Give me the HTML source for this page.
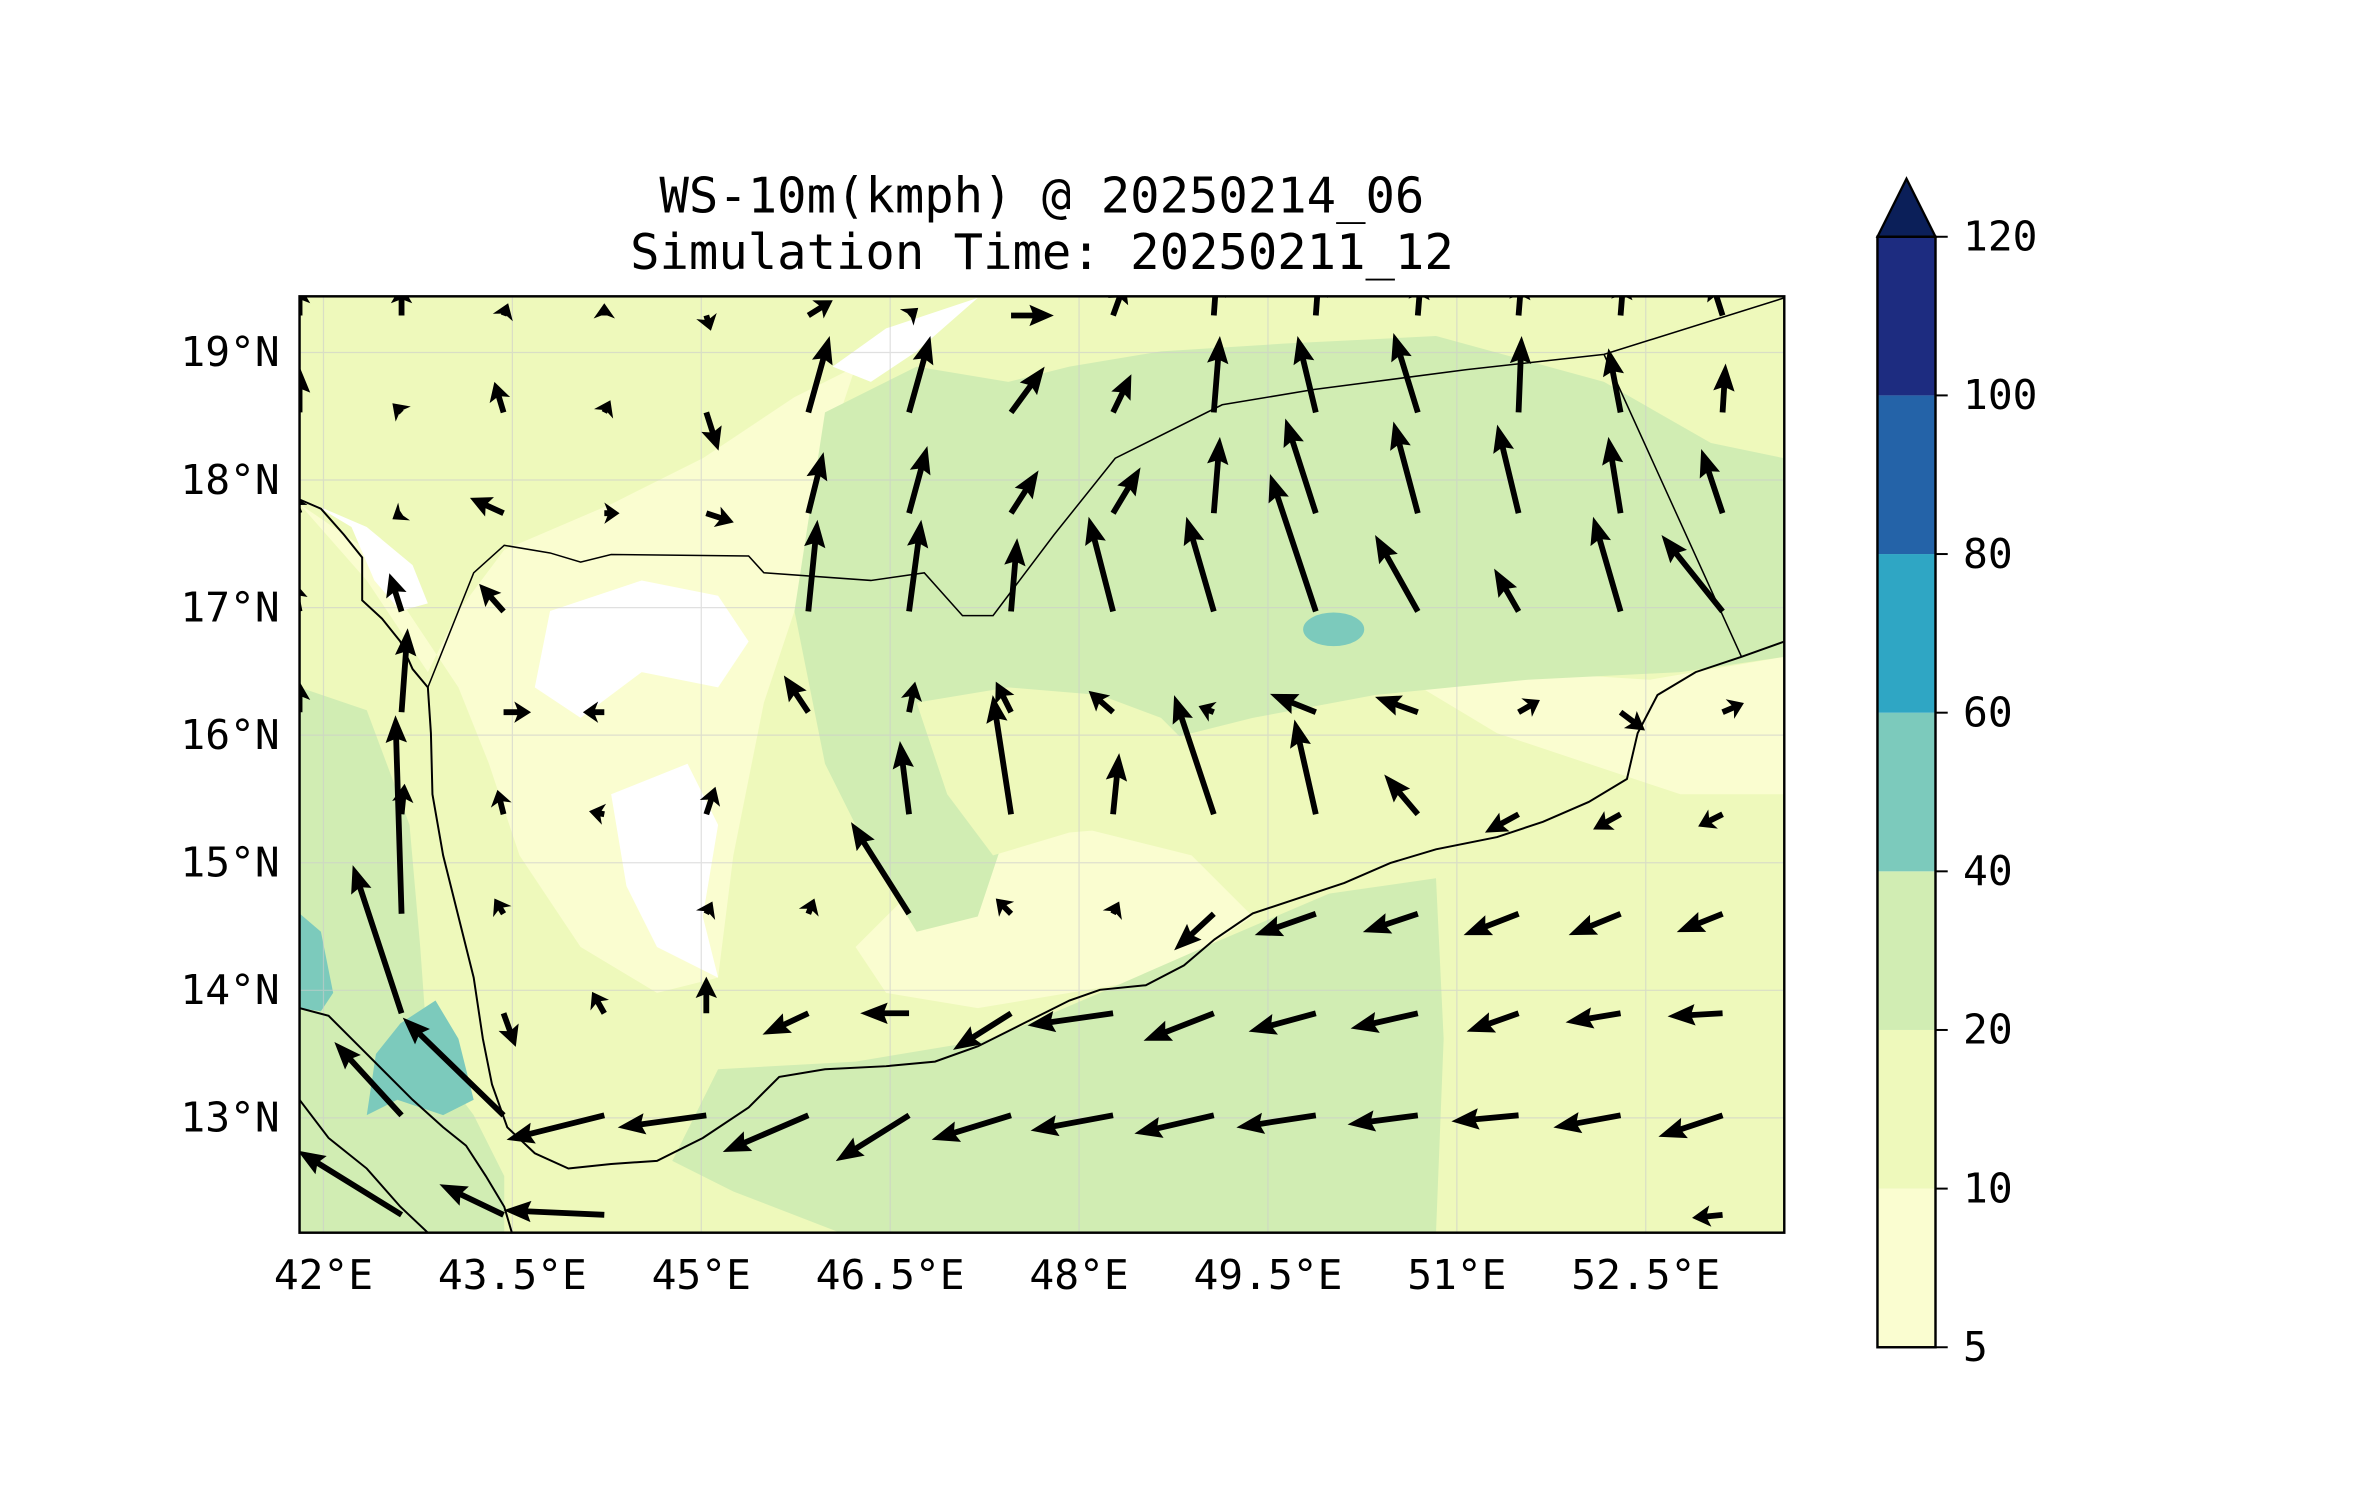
<!DOCTYPE html>
<html><head><meta charset="utf-8">
<style>
html,body{margin:0;padding:0;background:#fff;}
svg{display:block;font-family:"DejaVu Sans Mono","Liberation Mono",monospace;}
</style></head>
<body>
<svg id="chart" width="2371" height="1500" viewBox="0 0 1552 982" xmlns="http://www.w3.org/2000/svg">
<defs><clipPath id="mapclip"><rect x="196" y="194" width="972" height="613"/></clipPath></defs>
<text x="682" y="139" font-size="32" text-anchor="middle" fill="#000">WS-10m(kmph) @ 20250214_06</text>
<text x="682" y="176" font-size="32" text-anchor="middle" fill="#000">Simulation Time: 20250211_12</text>
<g id="map" clip-path="url(#mapclip)">
  <rect x="196" y="194" width="972" height="613" fill="#eef9bb"/>
  <path fill="#fafdd0" d="M196,330 L240,380 L280,440 L300,400 L330,360 L400,330 L460,300 L520,260 L560,240 L540,300 L520,400 L500,460 L480,560 L470,640 L430,650 L380,620 L340,560 L320,500 L300,450 L280,420 L240,360 Z"/>
  <path fill="#ffffff" d="M205,330 L230,345 L245,380 L262,400 L280,395 L270,370 L240,345 Z"/>
  <path fill="#ffffff" d="M360,400 L420,380 L470,390 L490,420 L470,450 L420,440 L380,470 L350,450 Z"/>
  <path fill="#ffffff" d="M400,520 L450,500 L470,540 L460,600 L470,640 L430,620 L410,580 Z"/>
  <path fill="#ffffff" d="M545,240 L580,215 L640,195 L600,230 L570,250 Z"/>
  <path fill="#fafdd0" d="M560,620 L620,560 L700,540 L780,560 L820,600 L760,640 L700,650 L640,660 L580,650 Z"/>
  <path fill="#fafdd0" d="M930,450 L1000,440 L1080,445 L1168,430 L1168,520 L1100,520 L1040,500 L980,480 Z"/>
  <path fill="#d1edb3" d="M520,400 L540,270 L600,240 L660,250 L700,240 L760,230 L840,225 L940,220 L1050,250 L1120,290 L1168,300 L1168,430 L1100,440 L1000,445 L900,455 L820,470 L760,485 L700,500 L660,540 L640,600 L600,610 L570,560 L540,500 Z"/>
  <path fill="#eef9bb" d="M600,460 L660,450 L720,455 L760,470 L790,500 L760,540 L700,545 L650,560 L620,520 Z"/>
  <path fill="#d1edb3" d="M470,700 L560,695 L650,680 L720,650 L800,615 L870,585 L940,575 L945,680 L940,807 L550,807 L480,780 L440,760 Z"/>
  <path fill="#d1edb3" d="M196,450 L240,465 L268,540 L275,620 L280,690 L310,730 L330,770 L330,807 L196,807 Z"/>
  <path fill="#7ccabc" d="M196,598 L210,610 L218,650 L210,662 L196,660 Z"/>
  <path fill="#7ccabc" d="M246,690 L262,670 L285,655 L300,680 L310,720 L290,730 L260,720 L240,730 Z"/>
  <ellipse cx="873" cy="412" rx="20" ry="11" fill="#7ccabc"/>
  <g id="gridlines" stroke="#cccccc" stroke-width="0.8" opacity="0.6"></g>
  <path fill="none" stroke="#000" stroke-width="1.3" d="M196,327 L210,333 L225,350 L237,365 L237,393 L250,405 L262,420 L270,438 L280,450 L282,480 L283,520 L290,560 L300,600 L310,640 L316,680 L322,710 L332,738 L350,755 L372,765 L400,762 L430,760 L460,745 L490,725 L510,705 L540,700 L580,698 L612,695 L640,685 L670,670 L700,655 L720,648 L750,645 L775,632 L795,615 L820,598 L850,588 L880,578 L910,565 L940,556 L980,548 L1010,538 L1040,525 L1065,510 L1072,480 L1085,455 L1110,440 L1140,430 L1168,420"/>
  <path fill="none" stroke="#000" stroke-width="1.3" d="M196,660 L215,665 L235,685 L250,700 L270,720 L290,738 L305,750 L318,770 L330,790 L335,807 M196,720 L215,745 L240,765 L262,790 L280,807"/>
  <path fill="none" stroke="#000" stroke-width="1" d="M280,450 L300,400 L310,375 L330,357 L360,362 L380,368 L400,363 L490,364 L500,375 L570,380 L605,375 L630,403 L650,403 L690,350 L730,300 L800,265 L860,255 L960,242 L1050,232 L1168,195"/>
  <path fill="none" stroke="#000" stroke-width="1" d="M1050,232 L1140,430"/>
  <g id="quiver"></g>
</g>
<rect x="196" y="194" width="972" height="613" fill="none" stroke="#000" stroke-width="1.6"/>
<g id="axes" fill="#000"></g>
<g id="colorbar"></g>
<script>
const lonTicks=[42,43.5,45,46.5,48,49.5,51,52.5];
const lonLabels=["42°E","43.5°E","45°E","46.5°E","48°E","49.5°E","51°E","52.5°E"];
const latTicks=[19,18,17,16,15,14,13];
const latLabels=["19°N","18°N","17°N","16°N","15°N","14°N","13°N"];
const cbLevels=[5,10,20,40,60,80,100,120];
const cbColors=["#fafdd0","#eef9bb","#d1edb3","#7ccabc","#2fa6c4","#2463a8","#1d2c80"];
const cbExtendColor="#0b1f59";
const qLons=[41.81,42.62,43.43,44.23,45.04,45.85,46.65,47.46,48.27,49.07,49.88,50.69,51.49,52.30,53.11];
const qLats=[19.29,18.53,17.74,16.97,16.18,15.38,14.60,13.82,13.02,12.24];
const qU=[
[0,0,3,0,3,16,6,28,8,2,2,2,2,2,-8],
[0,-6,-6,4,8,14,14,22,12,4,-12,-16,2,-8,2],
[-5,-6,-22,10,18,10,12,18,18,4,-20,-16,-14,-8,-14],
[-4,-8,-16,0,0,6,8,4,-16,-18,-30,-28,-16,-18,-40],
[0,4,18,-14,0,-16,4,-10,-16,-10,-30,-28,14,16,14],
[0,2,-4,-10,6,0,-6,-12,4,-26,-14,-22,-22,-18,-16],
[0,-4,-6,0,4,4,-38,-10,4,-26,-40,-36,-36,-34,-30],
[0,-32,8,-8,0,-30,-32,-38,-56,-46,-44,-44,-34,-36,-36],
[0,-44,-66,-64,-58,-56,-48,-52,-54,-52,-52,-46,-44,-44,-42],
[0,-68,-42,-66,0,0,0,0,0,0,0,0,0,0,-20]
];
const qV=[
[20,20,8,8,-10,10,5,0,22,28,28,25,25,25,25],
[30,6,20,8,-25,50,50,30,25,50,50,52,50,42,32],
[12,-4,10,0,-6,40,44,28,30,50,62,60,58,50,42],
[20,25,18,0,0,60,60,48,62,62,90,50,28,62,50],
[20,55,0,0,0,24,20,20,14,4,12,10,8,-12,6],
[0,20,16,2,18,0,48,78,40,78,62,26,-12,-10,-8],
[0,130,10,0,8,10,60,10,8,-24,-14,-12,-14,-14,-12],
[0,97,-22,14,24,-14,0,-24,-8,-18,-12,-10,-12,-6,-2],
[0,48,64,-16,-8,-24,-30,-16,-10,-12,-8,-6,-4,-8,-14],
[0,42,20,3,0,0,0,0,0,0,0,0,0,0,-2]
];
const NS="http://www.w3.org/2000/svg";
const X0=196,X1=1168,Y0=194,Y1=807,LON0=41.81,LON1=53.6,LAT0=12.1,LAT1=19.44;
function xOf(lon){return X0+(lon-LON0)/(LON1-LON0)*(X1-X0);}
function yOf(lat){return Y1-(lat-LAT0)/(LAT1-LAT0)*(Y1-Y0);}
const cbX=1229,cbW=38,cbTop=155,cbBot=882;
function yCb(i){return cbBot-i*(cbBot-cbTop)/(cbLevels.length-1);}
function mk(tag,attrs,parent){const e=document.createElementNS(NS,tag);for(const k in attrs)e.setAttribute(k,attrs[k]);parent.appendChild(e);return e;}
const grid=document.getElementById('gridlines');
const axes=document.getElementById('axes');
lonTicks.forEach((t,i)=>{
  const x=xOf(t);
  const g=mk('line',{x1:x,x2:x,y1:Y0,y2:Y1},grid);
  
  
  const tx=mk('text',{x:x,y:844,'text-anchor':'middle','font-size':27},axes);
  
  
  tx.textContent=lonLabels[i];
});
latTicks.forEach((t,i)=>{
  const y=yOf(t);
  const g=mk('line',{x1:X0,x2:X1,y1:y,y2:y},grid);
  
  
  const tx=mk('text',{x:183,y:y+9,'text-anchor':'end','font-size':27},axes);
  
  
  tx.textContent=latLabels[i];
});
const cb=document.getElementById('colorbar');
cbColors.forEach((c,i)=>{
  const r=mk('rect',{x:cbX,y:yCb(i+1),width:cbW,height:yCb(i)-yCb(i+1),fill:c},cb);
  
  
});
const tri=mk('polygon',{points:`${cbX},${cbTop} ${cbX+cbW/2},${cbTop-38} ${cbX+cbW},${cbTop}`,fill:cbExtendColor,stroke:'#000','stroke-width':1.5},cb);


const fr=mk('rect',{x:cbX,y:cbTop,width:cbW,height:cbBot-cbTop,fill:'none',stroke:'#000','stroke-width':1.6},cb);


cbLevels.forEach((v,i)=>{
  const y=yCb(i);
  const tk=mk('line',{x1:cbX+cbW,x2:cbX+cbW+8,y1:y,y2:y,stroke:'#000','stroke-width':1.3},cb);
  
  
  const tx=mk('text',{x:cbX+cbW+18,y:y+9,'font-size':27,fill:'#000'},cb);
  
  
  tx.textContent=v;
});
const q=document.getElementById('quiver');
const S=1.0;
qLats.forEach((lat,r)=>{qLons.forEach((lon,c)=>{
  const u=qU[r][c],v=qV[r][c];
  const L=Math.hypot(u,v)*S; if(L<2)return;
  const x=xOf(lon),y=yOf(lat);
  const ang=Math.atan2(-v,u)*180/Math.PI;
  const hl=Math.min(16,Math.max(8,L*0.5)), hw=7, sw=1.9;
  const shaft=Math.max(0,L-hl);
  const p=`M0,${-sw} L${shaft},${-sw} L${shaft-2},${-hw} L${L},0 L${shaft-2},${hw} L${shaft},${sw} L0,${sw} Z`;
  const a=mk('path',{d:p,fill:'#000',transform:`translate(${x},${y}) rotate(${ang})`},q);
  
  
});});
</script>
</svg>
</body></html>
